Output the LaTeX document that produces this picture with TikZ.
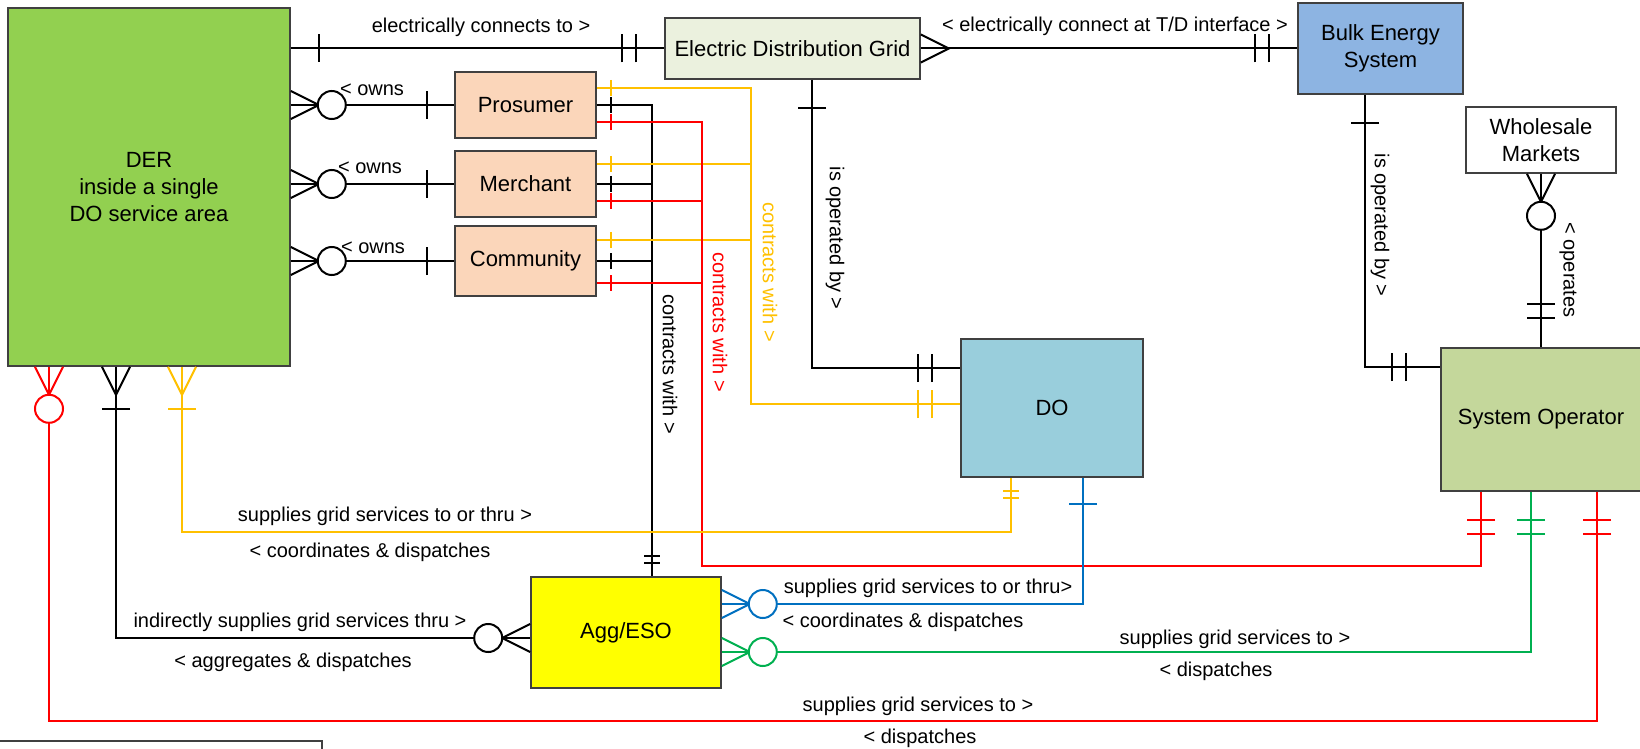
\documentclass[tikz,border=0pt]{standalone}
\usepackage{fontspec}
\setmainfont{Liberation Sans}
\usetikzlibrary{calc}
\definecolor{dergreen}{RGB}{146,208,80}
\definecolor{gridgreen}{RGB}{235,241,222}
\definecolor{bulkblue}{RGB}{141,180,226}
\definecolor{sogreen}{RGB}{196,215,155}
\definecolor{doblue}{RGB}{153,206,220}
\definecolor{peach}{RGB}{251,214,186}
\definecolor{aggyellow}{RGB}{255,255,0}
\definecolor{cyellow}{RGB}{255,192,0}
\definecolor{cred}{RGB}{255,0,0}
\definecolor{cblue}{RGB}{0,112,192}
\definecolor{cgreen}{RGB}{0,176,80}
\definecolor{boxgray}{RGB}{64,64,64}

\begin{document}
\begin{tikzpicture}[x=0.5pt,y=-0.5pt,line width=1pt,
  box/.style={draw=boxgray,line width=0.8pt,inner sep=0pt,align=center,
              font=\fontsize{11}{13.5}\selectfont},
  lbl/.style={font=\fontsize{10}{12}\selectfont,inner sep=0pt},
  crow/.pic={\draw (0,14) -- (28,0) -- (0,-14);},
  ring/.pic={\draw[fill=white] (#1,0) circle[radius=14];},
  one/.pic={\draw (#1,-14) -- (#1,14);},
  two/.pic={\draw (#1,-14) -- (#1,14) (#1+14,-14) -- (#1+14,14);},
  sone/.pic={\draw (#1,-8) -- (#1,8);},
  stwo/.pic={\draw (#1,-8) -- (#1,8) (#1+7,-8) -- (#1+7,8);}]
  \useasboundingbox (0,0) rectangle (1640,749);
  % Entities
  \node[box,fill=dergreen,minimum width=141pt,minimum height=179pt] (der) at (149,187) {DER\\inside a single\\DO service area};
  \node[box,fill=gridgreen,minimum width=127.5pt,minimum height=30.5pt] (edg) at (792.5,48.5) {Electric Distribution Grid};
  \node[box,fill=bulkblue,minimum width=82.5pt,minimum height=45.5pt] (bulk) at (1380.5,48.5) {Bulk Energy\\System};
  \node[box,fill=white,minimum width=75pt,minimum height=33pt] (wsm) at (1541,140) {Wholesale\\Markets};
  \node[box,fill=sogreen,minimum width=100pt,minimum height=71.5pt] (so) at (1541,419.5) {System Operator};
  \node[box,fill=doblue,minimum width=91pt,minimum height=69pt] (do) at (1052,408) {DO};
  \node[box,fill=aggyellow,minimum width=95pt,minimum height=55.5pt] (agg) at (626,632.5) {Agg/ESO};
  \node[box,fill=peach,minimum width=70.5pt,minimum height=33pt] (pros) at (525.5,105) {Prosumer};
  \node[box,fill=peach,minimum width=70.5pt,minimum height=33pt] (merc) at (525.5,184) {Merchant};
  \node[box,fill=peach,minimum width=70.5pt,minimum height=35pt] (comm) at (525.5,261) {Community};
  \draw[boxgray,line width=0.8pt] (-10,741) rectangle (322,800);

  % Connection points
  \coordinate (edgS) at ($(edg.south)+(19.5,0)$);
  \coordinate (doK) at ($(do.west)+(0,-40)$);
  \coordinate (bulkS) at ($(bulk.south)+(-15.5,0)$);
  \coordinate (soW) at ($(so.west)+(0,-52.5)$);
  \coordinate (aggN) at ($(agg.north)+(26,0)$);
  \coordinate (prosY) at ($(pros.east)+(0,-17)$);
  \coordinate (mercY) at ($(merc.east)+(0,-20)$);
  \coordinate (commY) at ($(comm.east)+(0,-21)$);
  \coordinate (prosR) at ($(pros.east)+(0,17)$);
  \coordinate (mercR) at ($(merc.east)+(0,17)$);
  \coordinate (commR) at ($(comm.east)+(0,22)$);
  \coordinate (doYW) at ($(do.west)+(0,-4)$);
  \coordinate (colY) at ($(doYW)+(-209,0)$);
  \coordinate (bendR) at (702,566);
  \coordinate (soR1) at ($(so.south)+(-60,0)$);
  \coordinate (soG) at ($(so.south)+(-10,0)$);
  \coordinate (soR2) at ($(so.south)+(56,0)$);
  \coordinate (derR) at ($(der.south)+(-100,0)$);
  \coordinate (derK) at ($(der.south)+(-33,0)$);
  \coordinate (derY) at ($(der.south)+(33,0)$);
  \coordinate (doYS) at ($(do.south)+(-41,0)$);
  \coordinate (doB) at ($(do.south)+(31,0)$);
  \coordinate (aggW) at ($(agg.west)+(0,5.5)$);
  \coordinate (aggB) at ($(agg.east)+(0,-28.5)$);
  \coordinate (aggG) at ($(agg.east)+(0,19.5)$);
  \coordinate (rowY) at (0,532);
  \coordinate (rowR) at (0,721);

  % Black relations
  \draw (der.east |- edg.west) -- (edg.west);
  \draw (edg.east) -- (bulk.west);
  \draw (der.east |- pros.west) -- (pros.west);
  \draw (der.east |- merc.west) -- (merc.west);
  \draw (der.east |- comm.west) -- (comm.west);
  \draw (edgS) |- (doK);
  \draw (bulkS) |- (soW);
  \draw (wsm.south) -- (so.north);
  \draw (pros.east) -| (aggN);
  \draw (merc.east) -| (aggN);
  \draw (comm.east) -| (aggN);
  \draw (derK) |- (aggW);
  % Coloured relations
  \draw[cyellow] (prosY) -| (colY) -- (doYW);
  \draw[cyellow] (mercY) -| (colY);
  \draw[cyellow] (commY) -| (colY);
  \draw[cred] (prosR) -| (bendR) -| (soR1);
  \draw[cred] (mercR) -| (bendR);
  \draw[cred] (commR) -| (bendR);
  \draw[cyellow] (derY) |- (doYS |- rowY) -- (doYS);
  \draw[cred] (derR) |- (soR2 |- rowR) -- (soR2);
  \draw[cblue] (aggB) -| (doB);
  \draw[cgreen] (aggG) -| (soG);

  % Crow's foot ends
  \path (der.east |- edg.west) pic{one=28} (edg.west) pic[rotate=180]{two=28};
  \path (edg.east) pic{crow} (bulk.west) pic[rotate=180]{two=28};
  \path (der.east |- pros.west) pic{crow} pic{ring=41} (pros.west) pic[rotate=180]{one=27};
  \path (der.east |- merc.west) pic{crow} pic{ring=41} (merc.west) pic[rotate=180]{one=27};
  \path (der.east |- comm.west) pic{crow} pic{ring=41} (comm.west) pic[rotate=180]{one=27};
  \path (edgS) pic[rotate=-90]{one=28} (doK) pic[rotate=180]{two=28};
  \path (bulkS) pic[rotate=-90]{one=28} (soW) pic[rotate=180]{two=34};
  \path (wsm.south) pic[rotate=-90]{crow} pic[rotate=-90]{ring=42} (so.north) pic[rotate=90]{two=29};
  \path (pros.east) pic{sone=14} (merc.east) pic{sone=14} (comm.east) pic{sone=14} (aggN) pic[rotate=90]{stwo=13};
  \path (derK) pic[rotate=-90]{crow} pic[rotate=-90]{one=42} (aggW) pic[rotate=180]{crow} pic[rotate=180]{ring=42};
  \path[cyellow] (prosY) pic[cyellow]{sone=14} (mercY) pic[cyellow]{sone=14} (commY) pic[cyellow]{sone=14}
    (doYW) pic[cyellow,rotate=180]{two=28};
  \path (derY) pic[cyellow,rotate=-90]{crow} pic[cyellow,rotate=-90]{one=42} (doYS) pic[cyellow,rotate=-90]{stwo=13};
  \path (prosR) pic[cred]{sone=14} (mercR) pic[cred]{sone=14} (commR) pic[cred]{sone=14}
    (soR1) pic[cred,rotate=-90]{two=28};
  \path (derR) pic[cred,rotate=-90]{crow} pic[cred,rotate=-90]{ring=42} (soR2) pic[cred,rotate=-90]{two=28};
  \path (aggB) pic[cblue]{crow} pic[cblue]{ring=41} (doB) pic[cblue,rotate=-90]{one=26};
  \path (aggG) pic[cgreen]{crow} pic[cgreen]{ring=41} (soG) pic[cgreen,rotate=-90]{two=28};

  % Labels
  \node[lbl] (tConn) at (481,27) {electrically connects to >};
  \node[lbl] (tTD) at (1115,26) {< electrically connect at T/D interface >};
  \node[lbl] (tOwn1) at (372,90) {< owns};
  \node[lbl] (tOwn2) at (370,168) {< owns};
  \node[lbl] (tOwn3) at (373,248) {< owns};
  \node[lbl,rotate=-90] (tOpEdg) at (835,238) {is operated by >};
  \node[lbl,rotate=-90] (tOpBulk) at (1380,225) {is operated by >};
  \node[lbl,rotate=-90] (tOpWsm) at (1568,270) {< operates};
  \node[lbl,rotate=-90] (tCwK) at (670,364) {contracts with >};
  \node[lbl,rotate=-90,cred] (tCwR) at (720,322) {contracts with >};
  \node[lbl,rotate=-90,cyellow] (tCwY) at (770,272) {contracts with >};
  \node[lbl] (tSupY) at (385,516) {supplies grid services to or thru >};
  \node[lbl] (tCoY) at (370,552) {< coordinates \& dispatches};
  \node[lbl] (tSupK) at (300,622) {indirectly supplies grid services thru >};
  \node[lbl] (tAggK) at (293,662) {< aggregates \& dispatches};
  \node[lbl] (tSupB) at (928,588) {supplies grid services to or thru>};
  \node[lbl] (tCoB) at (903,622) {< coordinates \& dispatches};
  \node[lbl] (tSupG) at (1235,639) {supplies grid services to >};
  \node[lbl] (tDisG) at (1216,671) {< dispatches};
  \node[lbl] (tSupR) at (918,706) {supplies grid services to >};
  \node[lbl] (tDisR) at (920,738) {< dispatches};
\end{tikzpicture}
\end{document}
